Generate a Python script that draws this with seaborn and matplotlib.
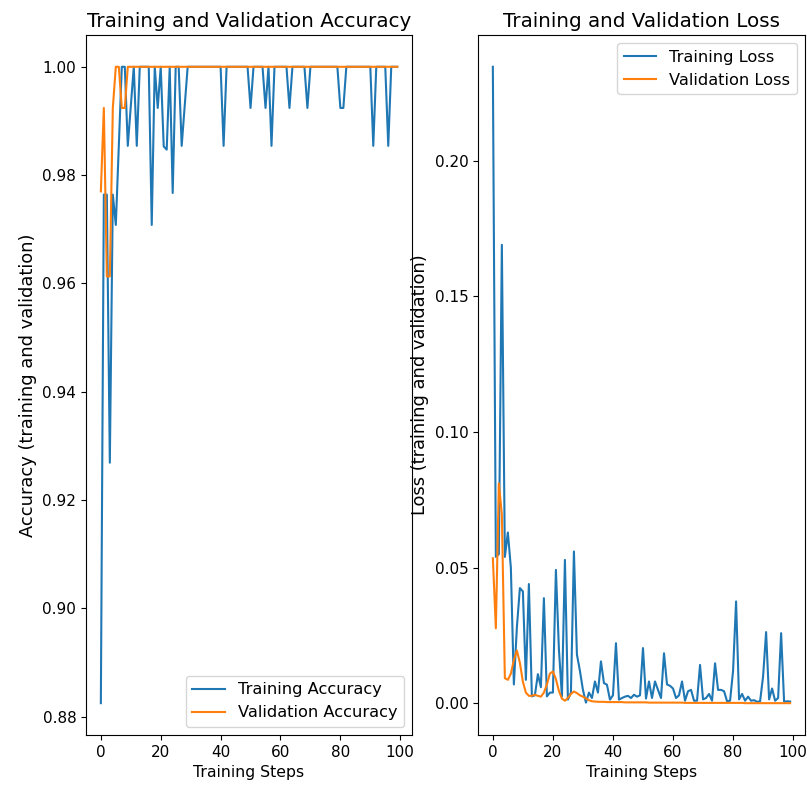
import matplotlib
matplotlib.use("Agg")
import pandas as pd
import seaborn as sns
from matplotlib import pyplot as plt

# values, one per training step (0..99)
train_acc = [
    0.8825, 0.9764, 0.9764, 0.9269, 0.9764, 0.9708, 0.9854, 1.0, 1.0, 0.9854,
    0.9927, 1.0, 0.9854, 1.0, 1.0, 1.0, 1.0, 0.9708, 1.0, 0.9924,
    1.0, 0.9853, 0.9847, 1.0, 0.9767, 1.0, 1.0, 0.9854, 0.9927, 1.0,
    1.0, 1.0, 1.0, 1.0, 1.0, 1.0, 1.0, 1.0, 1.0, 1.0,
    1.0, 0.9854, 1.0, 1.0, 1.0, 1.0, 1.0, 1.0, 1.0, 1.0,
    0.9924, 1.0, 1.0, 1.0, 1.0, 0.9924, 1.0, 0.9854, 1.0, 1.0,
    1.0, 1.0, 1.0, 0.9924, 1.0, 1.0, 1.0, 1.0, 1.0, 0.9924,
    1.0, 1.0, 1.0, 1.0, 1.0, 1.0, 1.0, 1.0, 1.0, 1.0,
    0.9924, 0.9924, 1.0, 1.0, 1.0, 1.0, 1.0, 1.0, 1.0, 1.0,
    1.0, 0.9854, 1.0, 1.0, 1.0, 1.0, 0.9854, 1.0, 1.0, 1.0,
]
val_acc = [
    0.977, 0.9924, 0.9613, 0.9613, 0.9924, 1.0, 1.0, 0.9924, 0.9924, 1.0,
] + [1.0] * 90

train_loss = [
    0.2346, 0.054, 0.055, 0.169, 0.054, 0.063, 0.050, 0.007, 0.028, 0.0425,
    0.0413, 0.0087, 0.044, 0.0026, 0.003, 0.0108, 0.006, 0.0388, 0.0026, 0.004,
    0.004, 0.0492, 0.020, 0.0026, 0.0529, 0.0014, 0.004, 0.056, 0.018, 0.012,
    0.005, 0.0003, 0.004, 0.002, 0.0081, 0.004, 0.0155, 0.0075, 0.0069, 0.0014,
    0.003, 0.0222, 0.0014, 0.002, 0.0025, 0.0028, 0.002, 0.0032, 0.0025, 0.003,
    0.0204, 0.0018, 0.0081, 0.002, 0.0081, 0.005, 0.002, 0.0185, 0.007, 0.0065,
    0.0055, 0.002, 0.003, 0.0081, 0.001, 0.0045, 0.005, 0.001, 0.001, 0.0142,
    0.0015, 0.002, 0.0035, 0.001, 0.0148, 0.005, 0.005, 0.0045, 0.0008, 0.001,
    0.012, 0.0376, 0.0015, 0.0035, 0.001, 0.0025, 0.001, 0.0012, 0.0006, 0.0008,
    0.010, 0.0263, 0.0015, 0.0055, 0.001, 0.002, 0.0259, 0.0006, 0.0008, 0.0007,
]
val_loss = [
    0.0535, 0.0277, 0.0811, 0.0696, 0.0093, 0.0087, 0.011, 0.016, 0.0195, 0.015,
    0.008, 0.004, 0.0028, 0.0028, 0.0032, 0.0028, 0.0025, 0.004, 0.007, 0.011,
    0.0118, 0.009, 0.0046, 0.0018, 0.001, 0.002, 0.0035, 0.0044, 0.0038, 0.003,
    0.0025, 0.0018, 0.0012, 0.0008, 0.0007, 0.0006, 0.0006, 0.0006, 0.0005, 0.0005,
    0.0005, 0.0005, 0.0005, 0.0005, 0.0004, 0.0004, 0.0004, 0.0004, 0.0004, 0.0004,
    0.0004, 0.0004, 0.0003, 0.0003, 0.0003, 0.0003, 0.0003, 0.0003, 0.0003, 0.0003,
    0.0003, 0.0003, 0.0003, 0.0003, 0.0002, 0.0002, 0.0002, 0.0002, 0.0002, 0.0002,
    0.0002, 0.0002, 0.0002, 0.0002, 0.0002, 0.0002, 0.0002, 0.0002, 0.0002, 0.0002,
    0.0002, 0.0002, 0.0002, 0.0002, 0.0001, 0.0001, 0.0001, 0.0001, 0.0001, 0.0001,
    0.0001, 0.0001, 0.0001, 0.0001, 0.0001, 0.0001, 0.0001, 0.0001, 0.0001, 0.0001,
]
steps = list(range(len(train_acc)))


def main() -> None:
    df = pd.DataFrame(
        {
            "step": steps,
            "train_acc": train_acc,
            "val_acc": val_acc,
            "train_loss": train_loss,
            "val_loss": val_loss,
        }
    )

    plt.rcParams["font.family"] = ["DejaVu Sans"]
    plt.rcParams["xtick.labelsize"] = 11
    plt.rcParams["ytick.labelsize"] = 11
    plt.rcParams["legend.fontsize"] = 11.7
    fig = plt.figure(figsize=(8.07, 7.86), dpi=100)
    ax1 = fig.add_axes([0.1066, 0.0649, 0.404, 0.8906])
    ax2 = fig.add_axes([0.5923, 0.0649, 0.4052, 0.8906])

    sns.lineplot(data=df, x="step", y="train_acc", ax=ax1, color="C0",
                 label="Training Accuracy")
    sns.lineplot(data=df, x="step", y="val_acc", ax=ax1, color="C1",
                 label="Validation Accuracy")
    ax1.legend(loc="lower right")
    ax1.set_ylabel("Accuracy (training and validation)", fontsize=12.9)
    ax1.set_xlabel("Training Steps", fontsize=11.3)
    ax1.set_title("Training and Validation Accuracy", fontsize=14.3)

    sns.lineplot(data=df, x="step", y="train_loss", ax=ax2, color="C0",
                 label="Training Loss")
    sns.lineplot(data=df, x="step", y="val_loss", ax=ax2, color="C1",
                 label="Validation Loss")
    ax2.legend(loc="upper right")
    ax2.set_ylabel("Loss (training and validation)", fontsize=12.9)
    ax2.set_xlabel("Training Steps", fontsize=11.3)
    ax2.set_title("Training and Validation Loss", fontsize=14.3)

    fig.savefig("out.png", dpi=100)
    plt.close(fig)


if __name__ == "__main__":
    main()
